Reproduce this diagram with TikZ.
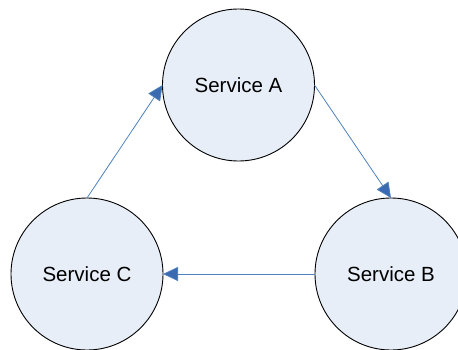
\documentclass[tikz,border=0pt]{standalone}
\usepackage{fontspec}
\setmainfont{Liberation Sans}
\usetikzlibrary{arrows.meta}
\definecolor{circfill}{RGB}{232,238,247}
\definecolor{linkline}{RGB}{79,129,189}
\definecolor{tipblue}{RGB}{58,106,176}
\begin{document}
\begin{tikzpicture}[x=1pt,y=1pt,
  service/.style={circle,draw=black,line width=0.9pt,fill=circfill,minimum size=152pt,inner sep=0pt,outer sep=0pt,font=\fontsize{20.5}{24}\selectfont},
  link/.style={draw=linkline,line width=0.8pt,-{Triangle[length=15pt,width=14pt,fill=tipblue]},tipblue}
]
\useasboundingbox (0,0) rectangle (458,349);
\node[service] (A) at (238.5,264) {Service A};
\node[service] (B) at (391,75) {Service B};
\node[service] (C) at (87,75) {Service C};
\draw[link,draw=linkline] (A.east) -- (B.north);
\draw[link,draw=linkline] (B.west) -- (C.east);
\draw[link,draw=linkline] (C.north) -- (A.west);
\end{tikzpicture}
\end{document}
